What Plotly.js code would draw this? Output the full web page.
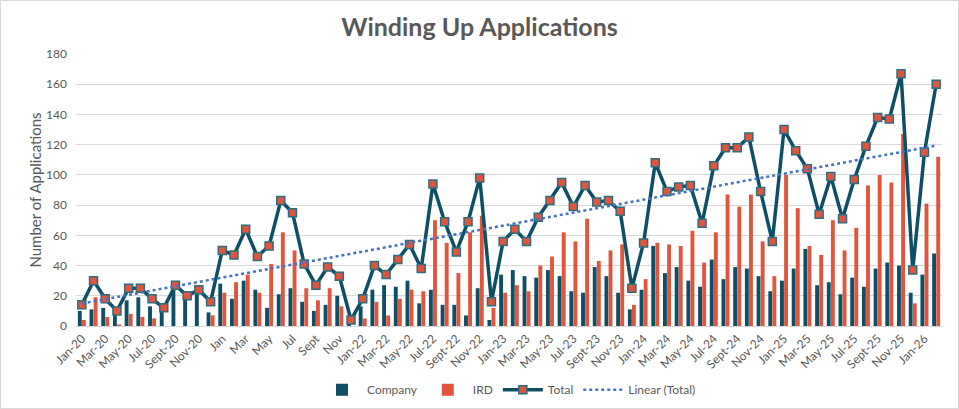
<!DOCTYPE html>
<html>
<head>
<meta charset="utf-8">
<script src="https://cdn.plot.ly/plotly-3.0.1.min.js"></script>
<style>
  html, body { margin: 0; padding: 0; background: #fff; }
  #chart { width: 959px; height: 409px; box-sizing: border-box; border: 1px solid #d9d9d9; }
</style>
</head>
<body>
<div id="chart"></div>
<script>
// Category labels (one per month, Jan-2020 .. Feb-2026)
const months = [
  "Jan-20","Feb-20","Mar-20","Apr-20","May-20","Jun-20","Jul-20","Aug-20","Sept-20","Oct-20","Nov-20","Dec-20",
  "Jan","Feb","Mar","Apr","May","Jun","Jul","Aug","Sept","Oct","Nov","Dec",
  "Jan-22","Feb-22","Mar-22","Apr-22","May-22","Jun-22","Jul-22","Aug-22","Sept-22","Oct-22","Nov-22","Dec-22",
  "Jan-23","Feb-23","Mar-23","Apr-23","May-23","Jun-23","Jul-23","Aug-23","Sept-23","Oct-23","Nov-23","Dec-23",
  "Jan-24","Feb-24","Mar-24","Apr-24","May-24","Jun-24","Jul-24","Aug-24","Sept-24","Oct-24","Nov-24","Dec-24",
  "Jan-25","Feb-25","Mar-25","Apr-25","May-25","Jun-25","Jul-25","Aug-25","Sept-25","Oct-25","Nov-25","Dec-25",
  "Jan-26","Feb-26"
];

const company = [
  10,11,12,9,17,19,13,12,27,20,24,9,
  28,18,30,24,12,21,25,16,10,14,20,4,
  13,24,27,26,30,15,24,14,14,7,25,4,
  34,37,33,32,37,33,23,22,39,33,22,11,
  24,53,35,39,30,26,44,31,39,38,33,23,
  30,38,51,27,29,21,32,26,38,42,40,22,
  34,48
];

const ird = [
  4,19,6,1,8,6,5,0,0,0,0,7,
  22,29,34,22,41,62,50,25,17,25,13,0,
  5,16,7,18,24,23,70,55,35,62,73,12,
  22,27,23,40,46,62,56,71,43,50,54,14,
  31,55,54,53,63,42,62,87,79,87,56,33,
  100,78,53,47,70,50,65,93,100,95,127,15,
  81,112
];

const total = [
  14,30,18,10,25,25,18,12,27,20,24,16,
  50,47,64,46,53,83,75,41,27,39,33,4,
  18,40,34,44,54,38,94,69,49,69,98,16,
  56,64,56,72,83,95,79,93,82,83,76,25,
  55,108,89,92,93,68,106,118,118,125,89,56,
  130,116,104,74,99,71,97,119,138,137,167,37,
  115,160
];

const tickLabels = months.filter((m, i) => i % 2 === 0);

// Linear least-squares trend of Total (as Excel's "Linear (Total)")
const n = total.length;
let sx = 0, sy = 0, sxx = 0, sxy = 0;
for (let i = 0; i < n; i++) {
  const x = i + 1;
  sx += x; sy += total[i]; sxx += x * x; sxy += x * total[i];
}
const slope = (n * sxy - sx * sy) / (n * sxx - sx * sx);
const intercept = (sy - slope * sx) / n;
const trend = total.map((_, i) => intercept + slope * (i + 1));

const teal = "#0E4F66";
const orange = "#E0553B";
const grey = "#595959";

const traces = [
  { type: "bar", name: "Company", x: months, y: company, marker: { color: teal } },
  { type: "bar", name: "IRD", x: months, y: ird, marker: { color: orange } },
  { type: "scatter", mode: "lines+markers", name: "Total", x: months, y: total,
    line: { color: teal, width: 3.5 },
    marker: { symbol: "square", size: 8, color: orange, line: { color: "#2E6D80", width: 1.5 } } },
  { type: "scatter", mode: "lines", name: "Linear (Total)", x: months, y: trend,
    line: { color: "#4472C4", width: 2.5, dash: "dot" }, hoverinfo: "skip" }
];

const layout = {
  width: 957, height: 407,
  margin: { l: 75, r: 16, t: 53, b: 82 },
  paper_bgcolor: "#fff", plot_bgcolor: "#fff",
  font: { family: "Lato, 'Open Sans', sans-serif", color: grey, size: 12 },
  title: { text: "<b>Winding Up Applications</b>", x: 0.5, xanchor: "center", y: 0.935, yanchor: "middle",
           font: { size: 25, color: grey, family: "Lato, 'Open Sans', sans-serif" } },
  barmode: "group", bargap: 0.3, bargroupgap: 0.05,
  xaxis: {
    type: "category", tickmode: "array", tickvals: tickLabels, ticktext: tickLabels,
    range: [-0.5, months.length - 0.5], autorange: false,
    tickangle: -45, tickfont: { size: 12, color: grey }, automargin: false,
    showgrid: false, showline: true, linecolor: "#d9d9d9", linewidth: 1,
    ticks: "", zeroline: false
  },
  yaxis: {
    range: [0, 180], autorange: false, dtick: 20, tickfont: { size: 12, color: grey }, automargin: false,
    showgrid: true, gridcolor: "#d9d9d9", gridwidth: 1, zeroline: false,
    ticks: "", ticklabelstandoff: 8,
    title: { text: "Number of Applications", font: { size: 15, color: grey }, standoff: 0 }
  },
  legend: {
    orientation: "h", x: 0.5, xanchor: "center", yref: "container", y: 0.045, yanchor: "middle",
    font: { size: 12, color: grey }, itemwidth: 40, traceorder: "normal"
  },
  showlegend: true
};

Plotly.newPlot("chart", traces, layout, { displayModeBar: false, staticPlot: true });
</script>
</body>
</html>
